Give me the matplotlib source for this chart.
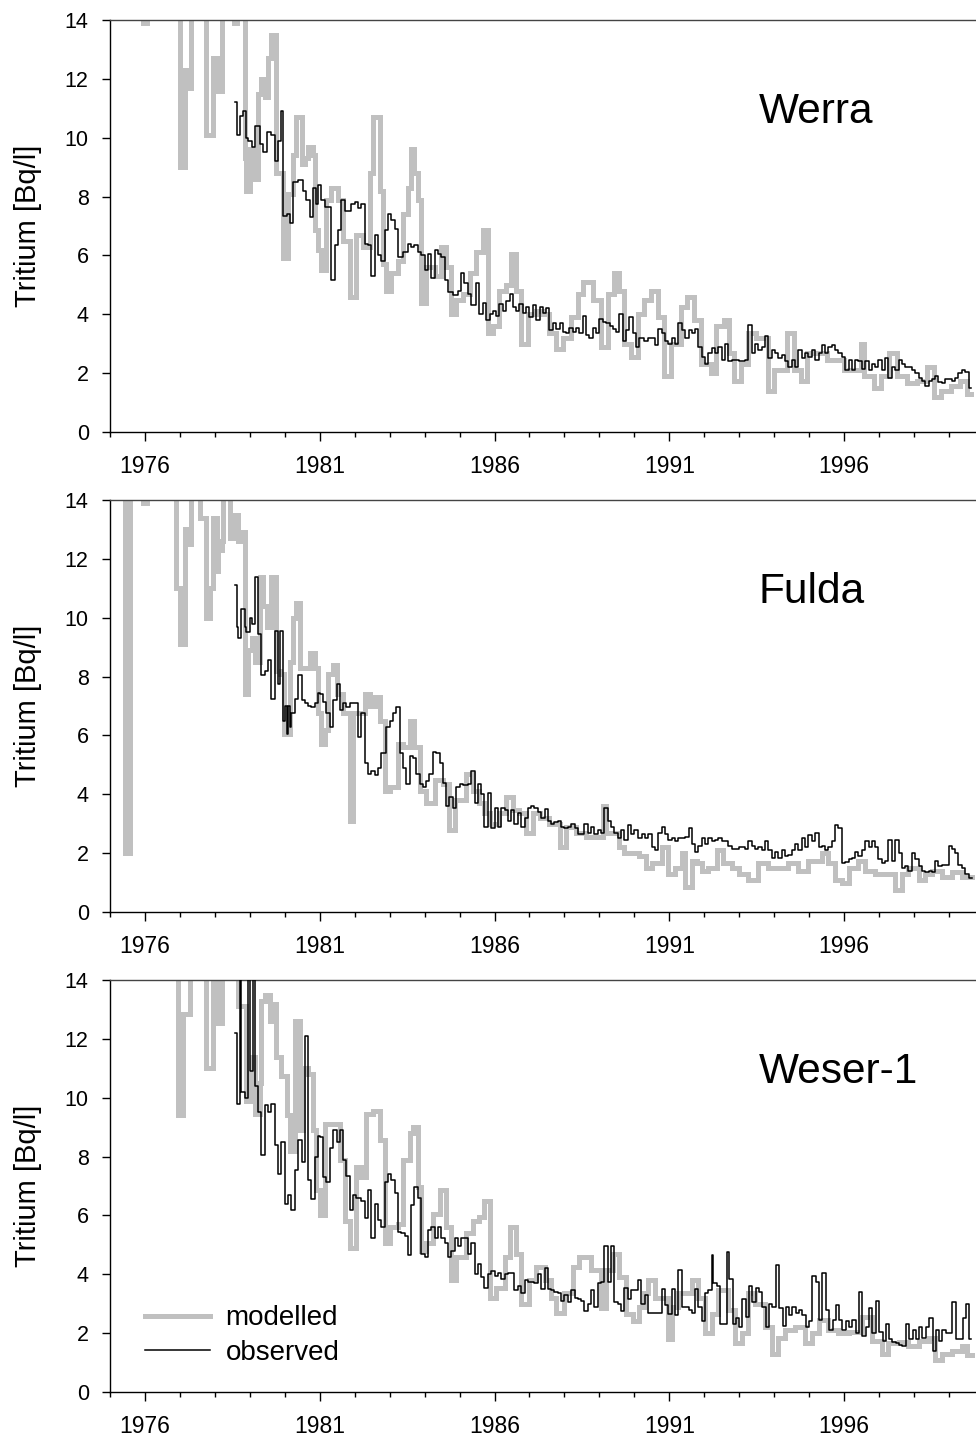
import matplotlib
matplotlib.use("Agg")
import matplotlib.pyplot as plt
from matplotlib.ticker import MultipleLocator, FixedLocator

plt.rcParams['font.family'] = ['Liberation Sans', 'DejaVu Sans']

# ---------------- DATA ----------------
panel_names = ["Werra", "Fulda", "Weser-1"]
year_ticks = [1976, 1981, 1986, 1991, 1996]
y_ticks = [0, 2, 4, 6, 8, 10, 12, 14]
legend_labels = ["modelled", "observed"]

# Werra - modelled (step start times in decimal years, values Bq/l)
werra_mod_t = [1975.50, 1975.95, 1976.05, 1977.00, 1977.14, 1977.24, 1977.31, 1977.76, 1977.95, 1978.05,
               1978.10, 1978.19, 1978.55, 1978.62, 1978.86, 1978.90, 1979.00, 1979.14, 1979.24, 1979.33,
               1979.43, 1979.52, 1979.62, 1979.76, 1979.95, 1980.10, 1980.24, 1980.33, 1980.48, 1980.57,
               1980.67, 1980.81, 1980.86, 1980.95, 1981.05, 1981.19, 1981.33, 1981.52, 1981.67, 1981.86,
               1982.05, 1982.24, 1982.43, 1982.52, 1982.71, 1982.81, 1982.90, 1983.05, 1983.24, 1983.38,
               1983.52, 1983.62, 1983.71, 1983.81, 1983.90, 1984.05, 1984.29, 1984.48, 1984.62, 1984.76,
               1984.90, 1985.10, 1985.29, 1985.48, 1985.67, 1985.81, 1985.95, 1986.14, 1986.33, 1986.48,
               1986.62, 1986.76, 1986.95, 1987.19, 1987.38, 1987.57, 1987.76, 1987.95, 1988.19, 1988.38,
               1988.52, 1988.81, 1989.05, 1989.24, 1989.43, 1989.57, 1989.71, 1989.90, 1990.10, 1990.29,
               1990.48, 1990.67, 1990.86, 1991.05, 1991.33, 1991.52, 1991.71, 1991.90, 1992.19, 1992.33,
               1992.57, 1992.71, 1992.86, 1993.05, 1993.24, 1993.48, 1993.81, 1994.00, 1994.38, 1994.57,
               1994.76, 1994.95, 1995.52, 1996.00, 1996.48, 1996.57, 1996.86, 1997.05, 1997.29, 1997.52,
               1997.81, 1998.10, 1998.38, 1998.57, 1998.76, 1999.05, 1999.33, 1999.52]
werra_mod_v = [16.5, 13.9, 16.0, 9.0, 12.3, 11.7, 15.5, 10.1, 12.7, 12.5,
               11.6, 15.0, 13.9, 15.0, 9.3, 8.2, 9.6, 8.6, 11.5, 12.0,
               11.4, 12.7, 13.5, 8.8, 5.9, 8.1, 9.4, 10.7, 9.1, 9.3,
               9.7, 9.4, 6.85, 6.2, 5.5, 7.9, 8.3, 7.9, 6.5, 4.6,
               6.7, 6.3, 8.8, 10.7, 8.2, 5.7, 4.8, 5.4, 5.8, 7.4,
               8.3, 9.6, 8.8, 7.9, 4.4, 5.6, 5.3, 6.3, 5.6, 4.0,
               4.5, 4.7, 5.4, 6.1, 6.85, 3.35, 3.6, 4.8, 5.0, 6.05,
               4.8, 3.0, 4.0, 4.1, 4.0, 3.35, 2.83, 3.2, 3.9, 4.7,
               5.1, 4.5, 2.9, 4.7, 5.4, 4.8, 3.0, 2.55, 4.0, 4.5,
               4.8, 3.9, 1.9, 3.0, 4.25, 4.6, 3.8, 2.3, 2.0, 3.6,
               3.8, 2.7, 1.75, 2.3, 3.35, 3.2, 1.4, 2.1, 3.35, 2.1,
               1.75, 2.7, 2.45, 2.1, 3.0, 1.9, 1.5, 1.9, 2.7, 1.9,
               1.65, 1.75, 2.2, 1.2, 1.4, 1.55, 1.75, 1.3]
werra_mod_end = 1999.62

# Werra - observed
werra_obs_t = [1978.57, 1978.62, 1978.71, 1978.81, 1978.90, 1978.95, 1979.05, 1979.14, 1979.29, 1979.38,
               1979.48, 1979.62, 1979.71, 1979.81, 1979.90, 1979.95, 1980.05, 1980.14, 1980.24, 1980.38,
               1980.52, 1980.62, 1980.71, 1980.81, 1980.90, 1980.95, 1981.05, 1981.14, 1981.33, 1981.43,
               1981.52, 1981.62, 1981.71, 1981.90, 1982.00, 1982.10, 1982.19, 1982.29, 1982.38, 1982.48,
               1982.57, 1982.67, 1982.76, 1982.86, 1982.95, 1983.05, 1983.14, 1983.24, 1983.38, 1983.52,
               1983.62, 1983.71, 1983.81, 1983.90, 1984.00, 1984.10, 1984.19, 1984.29, 1984.38, 1984.48,
               1984.57, 1984.67, 1984.81, 1984.95, 1985.05, 1985.14, 1985.24, 1985.33, 1985.48, 1985.57,
               1985.67, 1985.76, 1985.86, 1985.95, 1986.05, 1986.14, 1986.24, 1986.33, 1986.43, 1986.52,
               1986.62, 1986.71, 1986.81, 1986.90, 1987.00, 1987.10, 1987.19, 1987.29, 1987.38, 1987.48,
               1987.57, 1987.67, 1987.76, 1987.86, 1987.95, 1988.05, 1988.14, 1988.24, 1988.33, 1988.43,
               1988.52, 1988.62, 1988.71, 1988.81, 1988.90, 1989.00, 1989.10, 1989.19, 1989.29, 1989.38,
               1989.48, 1989.57, 1989.67, 1989.76, 1989.86, 1989.95, 1990.05, 1990.14, 1990.29, 1990.40,
               1990.59, 1990.69, 1990.78, 1990.88, 1990.97, 1991.07, 1991.16, 1991.26, 1991.35, 1991.45,
               1991.55, 1991.64, 1991.74, 1991.83, 1991.93, 1992.02, 1992.12, 1992.21, 1992.31, 1992.40,
               1992.50, 1992.59, 1992.69, 1992.79, 1992.98, 1993.17, 1993.26, 1993.36, 1993.45, 1993.55,
               1993.64, 1993.74, 1993.83, 1993.93, 1994.03, 1994.12, 1994.22, 1994.31, 1994.41, 1994.50,
               1994.60, 1994.69, 1994.79, 1994.88, 1994.98, 1995.08, 1995.17, 1995.27, 1995.36, 1995.46,
               1995.55, 1995.65, 1995.74, 1995.84, 1995.93, 1996.03, 1996.13, 1996.22, 1996.32, 1996.41,
               1996.51, 1996.60, 1996.70, 1996.79, 1996.89, 1996.98, 1997.08, 1997.18, 1997.27, 1997.37,
               1997.46, 1997.56, 1997.65, 1997.75, 1997.94, 1998.03, 1998.13, 1998.22, 1998.32, 1998.42,
               1998.51, 1998.61, 1998.70, 1998.80, 1998.89, 1999.08, 1999.18, 1999.27, 1999.37, 1999.46,
               1999.56]
werra_obs_v = [11.2, 10.1, 10.75, 10.9, 10.0, 9.9, 9.7, 10.4, 9.8, 9.5,
               10.2, 10.1, 9.2, 9.9, 10.9, 7.35, 7.4, 7.1, 8.5, 8.55,
               8.2, 7.9, 7.3, 8.3, 7.75, 8.4, 7.9, 7.65, 5.15, 6.35,
               6.85, 7.9, 7.5, 7.75, 7.8, 7.6, 7.75, 6.4, 6.35, 5.3,
               6.7, 6.0, 5.8, 6.85, 7.4, 7.2, 6.9, 5.95, 6.1, 6.4,
               6.3, 6.35, 6.1, 6.0, 5.5, 6.05, 5.25, 6.2, 6.05, 5.95,
               5.15, 4.75, 4.65, 4.8, 5.4, 5.05, 4.7, 4.3, 5.05, 4.0,
               4.4, 3.8, 4.0, 4.1, 3.95, 4.35, 4.1, 4.45, 4.7, 4.25,
               4.1, 4.35, 4.05, 4.25, 3.9, 4.3, 3.8, 4.25, 4.05, 4.2,
               3.45, 3.7, 3.5, 3.7, 3.4, 3.35, 3.55, 3.4, 3.55, 3.35,
               3.95, 3.3, 3.2, 3.55, 3.35, 3.85, 3.75, 3.7, 3.6, 3.5,
               3.4, 4.0, 3.1, 3.45, 3.9, 3.35, 2.9, 3.2, 3.1, 3.2,
               2.95, 3.5, 3.35, 3.1, 3.0, 3.2, 3.0, 3.7, 3.45, 3.2,
               3.45, 3.35, 3.5, 2.9, 2.55, 2.3, 2.7, 2.85, 2.7, 2.9,
               2.45, 3.0, 2.4, 2.45, 2.4, 2.45, 3.65, 2.7, 3.0, 2.8,
               2.9, 3.25, 2.5, 2.8, 2.7, 2.5, 2.6, 2.4, 2.2, 2.45,
               2.2, 2.8, 2.5, 2.7, 2.55, 2.8, 2.45, 2.7, 2.95, 2.7,
               2.9, 2.95, 2.8, 2.7, 2.55, 2.1, 2.45, 2.1, 2.45, 2.4,
               2.15, 2.4, 2.1, 2.3, 2.2, 2.45, 2.1, 2.5, 1.85, 2.2,
               2.1, 2.45, 2.3, 2.2, 2.1, 2.0, 1.85, 1.75, 1.55, 1.75,
               1.8, 1.9, 1.7, 1.65, 1.8, 1.75, 1.85, 2.0, 2.1, 2.05,
               1.5]
werra_obs_end = 1999.64

# Fulda - modelled
fulda_mod_t = [1975.30, 1975.43, 1975.57, 1975.95, 1976.05, 1976.90, 1977.00, 1977.14, 1977.24, 1977.33,
               1977.57, 1977.76, 1977.86, 1977.95, 1978.05, 1978.10, 1978.19, 1978.24, 1978.43, 1978.52,
               1978.67, 1978.81, 1978.86, 1978.95, 1979.05, 1979.14, 1979.29, 1979.38, 1979.48, 1979.62,
               1979.76, 1979.86, 1979.98, 1980.14, 1980.24, 1980.33, 1980.43, 1980.71, 1980.86, 1980.95,
               1981.05, 1981.14, 1981.24, 1981.38, 1981.48, 1981.67, 1981.86, 1981.95, 1982.29, 1982.43,
               1982.57, 1982.71, 1982.86, 1983.00, 1983.24, 1983.38, 1983.57, 1983.71, 1983.86, 1984.05,
               1984.29, 1984.52, 1984.71, 1984.86, 1985.19, 1985.38, 1985.57, 1985.71, 1985.86, 1986.14,
               1986.33, 1986.52, 1986.71, 1986.90, 1987.10, 1987.29, 1987.57, 1987.86, 1988.05, 1988.33,
               1988.62, 1989.10, 1989.19, 1989.57, 1989.71, 1990.14, 1990.33, 1990.50, 1990.78, 1990.97,
               1991.16, 1991.35, 1991.45, 1991.64, 1991.78, 1991.93, 1992.12, 1992.36, 1992.55, 1992.79,
               1992.98, 1993.26, 1993.55, 1993.83, 1994.41, 1994.69, 1994.98, 1995.36, 1995.55, 1995.74,
               1995.94, 1996.13, 1996.41, 1996.60, 1996.89, 1997.46, 1997.65, 1997.84, 1998.13, 1998.32,
               1998.51, 1998.80, 1999.08, 1999.37]
fulda_mod_v = [16.0, 2.0, 16.0, 13.9, 16.0, 11.0, 9.1, 13.0, 12.5, 16.0,
               13.4, 10.0, 11.0, 13.4, 11.6, 12.3, 12.6, 16.0, 12.7, 13.5,
               12.6, 12.9, 7.4, 8.9, 9.3, 8.5, 11.4, 10.4, 9.7, 11.4,
               8.2, 8.1, 6.05, 8.5, 10.0, 10.5, 8.3, 8.8, 8.3, 6.75,
               5.7, 6.2, 8.1, 8.4, 7.4, 6.75, 3.1, 6.75, 7.4, 7.0,
               7.3, 6.5, 4.1, 4.25, 5.7, 5.6, 6.5, 5.6, 4.1, 3.7,
               4.5, 4.35, 2.8, 3.8, 4.7, 4.1, 3.7, 3.35, 3.0, 3.35,
               3.9, 3.45, 3.35, 2.7, 3.35, 3.2, 3.0, 2.2, 2.9, 2.7,
               2.55, 3.6, 2.7, 2.2, 2.0, 1.9, 1.5, 1.65, 2.2, 1.3,
               1.5, 2.0, 0.85, 1.75, 1.65, 1.4, 1.5, 2.1, 1.65, 1.5,
               1.3, 1.1, 1.65, 1.5, 1.65, 1.4, 1.75, 2.0, 1.65, 1.1,
               1.0, 1.5, 1.75, 1.4, 1.3, 0.75, 1.3, 1.5, 1.1, 1.3,
               1.4, 1.2, 1.35, 1.2]
fulda_mod_end = 1999.66

# Fulda - observed
fulda_obs_t = [1978.57, 1978.62, 1978.67, 1978.76, 1978.86, 1978.90, 1979.00, 1979.05, 1979.14, 1979.24,
               1979.33, 1979.43, 1979.52, 1979.62, 1979.71, 1979.81, 1979.86, 1979.95, 1980.00, 1980.05,
               1980.10, 1980.14, 1980.19, 1980.29, 1980.38, 1980.48, 1980.57, 1980.67, 1980.76, 1980.86,
               1980.95, 1981.00, 1981.10, 1981.19, 1981.29, 1981.38, 1981.48, 1981.57, 1981.67, 1981.76,
               1981.86, 1982.10, 1982.19, 1982.29, 1982.38, 1982.48, 1982.57, 1982.67, 1982.76, 1982.90,
               1983.00, 1983.10, 1983.19, 1983.29, 1983.38, 1983.48, 1983.57, 1983.67, 1983.76, 1983.86,
               1983.95, 1984.05, 1984.14, 1984.24, 1984.33, 1984.43, 1984.52, 1984.62, 1984.71, 1984.81,
               1984.90, 1985.00, 1985.10, 1985.24, 1985.33, 1985.43, 1985.52, 1985.62, 1985.71, 1985.81,
               1985.90, 1986.00, 1986.10, 1986.19, 1986.29, 1986.38, 1986.48, 1986.57, 1986.67, 1986.76,
               1986.86, 1986.95, 1987.05, 1987.14, 1987.24, 1987.33, 1987.43, 1987.52, 1987.62, 1987.71,
               1987.81, 1987.90, 1988.00, 1988.10, 1988.19, 1988.29, 1988.38, 1988.57, 1988.67, 1988.76,
               1988.86, 1988.95, 1989.05, 1989.14, 1989.24, 1989.33, 1989.43, 1989.52, 1989.62, 1989.71,
               1989.81, 1989.90, 1990.00, 1990.10, 1990.21, 1990.31, 1990.40, 1990.50, 1990.59, 1990.69,
               1990.78, 1990.88, 1990.97, 1991.07, 1991.16, 1991.26, 1991.45, 1991.55, 1991.64, 1991.74,
               1991.83, 1991.93, 1992.02, 1992.12, 1992.21, 1992.31, 1992.40, 1992.50, 1992.69, 1992.79,
               1992.98, 1993.17, 1993.26, 1993.36, 1993.45, 1993.55, 1993.64, 1993.74, 1993.83, 1993.93,
               1994.03, 1994.12, 1994.22, 1994.31, 1994.41, 1994.50, 1994.60, 1994.69, 1994.79, 1994.88,
               1994.98, 1995.08, 1995.17, 1995.27, 1995.36, 1995.46, 1995.55, 1995.65, 1995.74, 1995.84,
               1995.94, 1996.03, 1996.13, 1996.22, 1996.32, 1996.41, 1996.51, 1996.60, 1996.70, 1996.79,
               1996.89, 1996.98, 1997.08, 1997.18, 1997.27, 1997.37, 1997.46, 1997.56, 1997.65, 1997.75,
               1997.84, 1997.94, 1998.03, 1998.13, 1998.22, 1998.32, 1998.42, 1998.51, 1998.61, 1998.70,
               1998.80, 1998.99, 1999.08, 1999.18, 1999.27, 1999.37, 1999.46, 1999.56]
fulda_obs_v = [11.1, 9.7, 9.3, 10.3, 9.7, 9.5, 10.0, 9.8, 11.4, 9.45,
               8.05, 8.2, 8.55, 7.25, 9.55, 7.75, 9.55, 6.5, 7.0, 6.05,
               7.0, 6.3, 6.75, 7.25, 8.05, 7.2, 7.1, 7.0, 6.95, 7.1,
               7.45, 7.4, 7.15, 6.75, 6.3, 7.2, 7.75, 6.85, 7.1, 6.95,
               7.1, 5.95, 6.75, 5.05, 4.7, 4.8, 4.65, 4.9, 5.4, 6.3,
               6.5, 6.75, 6.95, 5.4, 4.9, 4.35, 5.3, 5.25, 4.7, 4.35,
               4.25, 4.45, 4.7, 5.45, 5.4, 5.05, 4.4, 3.6, 3.9, 3.55,
               4.25, 4.35, 4.3, 4.35, 4.8, 3.7, 4.35, 4.0, 2.9, 4.05,
               2.85, 3.55, 2.9, 3.55, 3.45, 3.1, 3.45, 3.0, 3.35, 2.9,
               3.2, 3.55, 3.6, 3.55, 3.4, 3.2, 3.5, 3.1, 3.0, 3.05,
               3.1, 2.9, 2.85, 2.9, 3.0, 2.85, 2.65, 3.0, 2.7, 2.9,
               2.65, 2.8, 2.7, 3.55, 3.1, 2.9, 2.7, 2.5, 2.8, 2.45,
               2.95, 2.65, 2.8, 2.5, 2.65, 2.5, 2.65, 2.2, 2.1, 2.7,
               2.9, 2.65, 2.45, 2.5, 2.4, 2.5, 2.55, 2.85, 2.3, 2.05,
               2.25, 2.5, 2.3, 2.5, 2.4, 2.45, 2.5, 2.4, 2.25, 2.15,
               2.2, 2.15, 2.4, 2.25, 2.15, 2.2, 2.1, 2.4, 2.1, 1.85,
               2.05, 1.85, 2.1, 1.9, 1.95, 2.1, 2.3, 2.1, 2.5, 2.2,
               2.6, 2.4, 2.7, 2.2, 2.25, 2.1, 2.2, 2.4, 2.95, 2.85,
               1.65, 1.7, 1.8, 1.85, 2.05, 1.9, 2.1, 2.4, 2.2, 2.4,
               2.2, 1.8, 1.65, 1.75, 2.45, 1.75, 2.45, 2.0, 1.5, 1.55,
               1.4, 2.0, 1.8, 1.55, 1.4, 1.35, 1.4, 1.35, 1.75, 1.55,
               1.6, 2.25, 2.15, 2.0, 1.6, 1.5, 1.3, 1.15]
fulda_obs_end = 1999.65

# Weser-1 - modelled
weser_mod_t = [1976.50, 1976.95, 1977.10, 1977.29, 1977.76, 1977.95, 1978.10, 1978.19, 1978.67, 1978.90,
               1979.00, 1979.05, 1979.14, 1979.29, 1979.33, 1979.43, 1979.57, 1979.67, 1979.76, 1979.90,
               1980.05, 1980.14, 1980.29, 1980.43, 1980.52, 1980.67, 1980.81, 1980.90, 1981.00, 1981.14,
               1981.57, 1981.71, 1981.86, 1982.05, 1982.19, 1982.33, 1982.52, 1982.71, 1982.86, 1983.00,
               1983.24, 1983.38, 1983.57, 1983.67, 1983.81, 1983.90, 1984.05, 1984.24, 1984.43, 1984.62,
               1984.76, 1984.90, 1985.19, 1985.38, 1985.57, 1985.71, 1985.86, 1986.05, 1986.29, 1986.43,
               1986.62, 1986.76, 1987.00, 1987.19, 1987.43, 1987.62, 1987.76, 1988.00, 1988.24, 1988.43,
               1988.76, 1989.05, 1989.19, 1989.38, 1989.57, 1989.76, 1989.95, 1990.14, 1990.29, 1990.40,
               1990.59, 1990.97, 1991.07, 1991.26, 1991.64, 1991.83, 1992.02, 1992.21, 1992.40, 1992.69,
               1992.88, 1993.07, 1993.26, 1993.45, 1993.74, 1993.93, 1994.12, 1994.31, 1994.60, 1994.88,
               1995.08, 1995.27, 1995.55, 1995.84, 1996.13, 1996.51, 1996.79, 1997.08, 1997.27, 1997.56,
               1997.84, 1998.13, 1998.42, 1998.61, 1998.80, 1999.08, 1999.37, 1999.51]
weser_mod_v = [16.0, 9.4, 12.85, 16.0, 11.0, 16.0, 12.55, 16.0, 13.1, 9.9,
               10.8, 11.4, 9.45, 10.5, 13.3, 13.5, 12.6, 13.2, 11.4, 10.75,
               9.4, 8.2, 12.6, 8.9, 11.0, 10.8, 8.9, 6.85, 6.0, 9.1,
               7.9, 5.8, 4.9, 7.65, 7.3, 9.45, 9.55, 8.55, 5.05, 5.6,
               5.7, 7.9, 8.8, 9.0, 6.95, 4.8, 5.05, 6.05, 6.85, 5.6,
               3.8, 4.6, 5.4, 5.8, 5.95, 6.5, 3.2, 3.55, 4.6, 5.6,
               4.7, 3.0, 3.8, 4.25, 3.8, 3.2, 2.7, 3.35, 4.25, 4.6,
               4.15, 2.85, 4.15, 4.7, 3.9, 2.65, 2.4, 2.9, 3.35, 3.8,
               3.2, 1.8, 2.9, 3.35, 3.8, 3.2, 2.0, 2.65, 3.45, 2.8,
               1.65, 2.0, 3.35, 3.0, 2.2, 1.3, 1.85, 2.1, 2.2, 1.65,
               2.0, 2.45, 2.1, 2.0, 2.05, 2.55, 1.75, 1.3, 1.65, 1.7,
               1.55, 1.75, 1.85, 1.1, 1.3, 1.4, 1.55, 1.25]
weser_mod_end = 1999.66

# Weser-1 - observed
weser_obs_t = [1978.57, 1978.62, 1978.71, 1978.76, 1978.86, 1978.95, 1979.00, 1979.10, 1979.14, 1979.24,
               1979.33, 1979.43, 1979.52, 1979.62, 1979.71, 1979.81, 1979.90, 1980.00, 1980.10, 1980.19,
               1980.29, 1980.38, 1980.48, 1980.57, 1980.67, 1980.76, 1980.86, 1980.95, 1981.00, 1981.10,
               1981.19, 1981.29, 1981.38, 1981.48, 1981.57, 1981.67, 1981.76, 1981.86, 1981.95, 1982.05,
               1982.19, 1982.29, 1982.38, 1982.48, 1982.57, 1982.67, 1982.76, 1982.86, 1982.95, 1983.05,
               1983.14, 1983.24, 1983.33, 1983.43, 1983.52, 1983.62, 1983.71, 1983.81, 1983.90, 1984.00,
               1984.10, 1984.19, 1984.29, 1984.38, 1984.48, 1984.57, 1984.67, 1984.76, 1984.86, 1984.95,
               1985.05, 1985.24, 1985.33, 1985.43, 1985.52, 1985.62, 1985.71, 1985.81, 1985.90, 1986.00,
               1986.10, 1986.19, 1986.29, 1986.38, 1986.57, 1986.67, 1986.76, 1986.86, 1986.95, 1987.14,
               1987.24, 1987.33, 1987.43, 1987.52, 1987.62, 1987.71, 1987.81, 1987.90, 1988.00, 1988.10,
               1988.19, 1988.29, 1988.38, 1988.48, 1988.57, 1988.67, 1988.76, 1988.86, 1988.95, 1989.05,
               1989.14, 1989.24, 1989.33, 1989.43, 1989.52, 1989.62, 1989.71, 1989.81, 1989.90, 1990.10,
               1990.19, 1990.31, 1990.40, 1990.78, 1990.88, 1990.97, 1991.07, 1991.16, 1991.26, 1991.35,
               1991.55, 1991.64, 1991.74, 1991.83, 1991.93, 1992.02, 1992.12, 1992.21, 1992.26, 1992.36,
               1992.45, 1992.64, 1992.71, 1992.81, 1992.90, 1993.00, 1993.09, 1993.19, 1993.28, 1993.38,
               1993.47, 1993.57, 1993.66, 1993.76, 1993.85, 1993.95, 1994.05, 1994.14, 1994.24, 1994.33,
               1994.43, 1994.52, 1994.62, 1994.71, 1994.81, 1994.90, 1995.00, 1995.09, 1995.19, 1995.28,
               1995.38, 1995.47, 1995.57, 1995.67, 1995.76, 1995.86, 1995.95, 1996.05, 1996.14, 1996.24,
               1996.33, 1996.43, 1996.52, 1996.62, 1996.71, 1996.81, 1996.91, 1997.00, 1997.10, 1997.19,
               1997.29, 1997.38, 1997.48, 1997.58, 1997.67, 1997.77, 1997.86, 1997.96, 1998.05, 1998.15,
               1998.24, 1998.34, 1998.43, 1998.53, 1998.62, 1998.72, 1998.81, 1998.91, 1999.10, 1999.20,
               1999.39, 1999.48, 1999.58]
weser_obs_v = [12.2, 9.8, 15.0, 10.2, 10.0, 15.0, 10.9, 15.0, 10.4, 9.5,
               8.05, 9.75, 9.5, 9.8, 8.4, 7.4, 8.5, 6.4, 6.7, 6.2,
               7.55, 8.55, 7.8, 12.1, 7.2, 6.55, 8.0, 8.7, 8.65, 7.3,
               7.15, 8.3, 8.9, 8.5, 8.9, 7.9, 7.35, 6.2, 6.7, 6.6,
               6.5, 5.9, 6.85, 5.25, 6.4, 5.85, 5.6, 7.15, 7.4, 7.2,
               6.75, 5.45, 5.4, 5.3, 4.65, 6.35, 6.95, 6.6, 4.7, 4.6,
               5.5, 5.6, 5.25, 5.6, 5.25, 5.05, 4.6, 4.8, 5.25, 4.95,
               5.25, 4.7, 5.05, 4.0, 4.35, 3.9, 3.55, 4.0, 4.1, 3.95,
               4.05, 3.85, 4.0, 4.05, 3.45, 3.6, 3.35, 3.8, 3.75, 3.7,
               4.0, 3.5, 4.2, 3.5, 3.45, 3.4, 3.35, 3.1, 3.3, 3.05,
               3.45, 3.2, 3.15, 3.1, 2.75, 3.0, 3.45, 2.9, 3.7, 3.75,
               4.95, 3.75, 4.95, 3.05, 3.0, 2.75, 3.55, 3.15, 3.45, 3.8,
               3.0, 3.3, 2.7, 3.5, 2.95, 2.65, 3.5, 2.6, 4.15, 2.9,
               2.8, 2.7, 3.5, 2.9, 2.4, 3.35, 3.45, 4.65, 3.7, 3.6,
               2.3, 4.75, 3.85, 2.3, 2.5, 2.2, 3.15, 2.55, 3.6, 3.05,
               3.55, 3.4, 2.9, 2.2, 3.0, 2.9, 4.3, 2.85, 2.25, 2.9,
               2.6, 2.9, 2.7, 2.8, 2.6, 2.2, 2.4, 3.95, 3.75, 2.45,
               4.05, 2.8, 2.1, 2.45, 2.95, 2.45, 2.1, 2.4, 2.2, 2.45,
               2.0, 3.4, 1.9, 2.2, 2.85, 2.0, 3.1, 2.05, 1.75, 2.3,
               1.8, 1.7, 1.65, 1.6, 1.55, 2.3, 1.8, 2.1, 1.8, 2.2,
               1.85, 2.2, 2.5, 1.4, 2.1, 1.75, 2.1, 2.0, 3.05, 1.8,
               2.5, 3.0, 1.8]
weser_obs_end = 1999.64

panels = [
    (werra_mod_t, werra_mod_v, werra_mod_end, werra_obs_t, werra_obs_v, werra_obs_end),
    (fulda_mod_t, fulda_mod_v, fulda_mod_end, fulda_obs_t, fulda_obs_v, fulda_obs_end),
    (weser_mod_t, weser_mod_v, weser_mod_end, weser_obs_t, weser_obs_v, weser_obs_end),
]

# ---------------- FIGURE ----------------
W, H = 976, 1441
fig = plt.figure(figsize=(W / 100, H / 100), dpi=100)

ax_left = 110 / W
ax_width = 1.0 - ax_left + 0.002
ax_height = 412 / H
ax_tops = [20, 500, 980]

GRAY = '#c0c0c0'

for i, (name, data) in enumerate(zip(panel_names, panels)):
    mt, mv, mend, ot, ov, oend = data
    bottom = 1 - (ax_tops[i] + 412) / H
    ax = fig.add_axes([ax_left, bottom, ax_width, ax_height])

    l1, = ax.step(list(mt) + [mend], list(mv) + [mv[-1]], where='post',
                  color=GRAY, lw=3.6, solid_joinstyle='miter', zorder=2)
    l2, = ax.step(list(ot) + [oend], list(ov) + [ov[-1]], where='post',
                  color='black', lw=1.1, zorder=3)

    ax.set_xlim(1975.0, 1999.83)
    ax.set_ylim(0, 14)
    ax.xaxis.set_major_locator(FixedLocator(year_ticks))
    ax.xaxis.set_minor_locator(MultipleLocator(1))
    ax.yaxis.set_major_locator(FixedLocator(y_ticks))
    ax.set_xticklabels([str(y) for y in year_ticks])

    ax.tick_params(axis='x', which='major', direction='out', length=6.5, width=1,
                   labelsize=16.5, pad=10)
    ax.tick_params(axis='x', which='minor', direction='out', length=3.6, width=1)
    ax.tick_params(axis='y', which='major', direction='out', length=5.8, width=1,
                   labelsize=15.5, pad=9.5)

    for s in ['left', 'bottom']:
        ax.spines[s].set_linewidth(1.0)
        ax.spines[s].set_color('black')
    ax.spines['top'].set_color('#444444')
    ax.spines['top'].set_linewidth(1.0)
    ax.spines['right'].set_visible(False)

    ax.set_ylabel("Tritium [Bq/l]", fontsize=21, va='center')
    ax.yaxis.set_label_coords((28 - 110) / 866, 0.5)

    ax.text(1993.55, 10.5, name, fontsize=30.5, ha='left', va='baseline')

    if i == 2:
        ax.legend([l1, l2], legend_labels, loc='center left',
                  bbox_to_anchor=((145 - 110) / 866, (1392 - 1335.5) / 412),
                  frameon=False, fontsize=20, handlelength=2.35, handletextpad=0.55,
                  labelspacing=0.3, borderpad=0, borderaxespad=0)

fig.savefig("out.png", dpi=100)
